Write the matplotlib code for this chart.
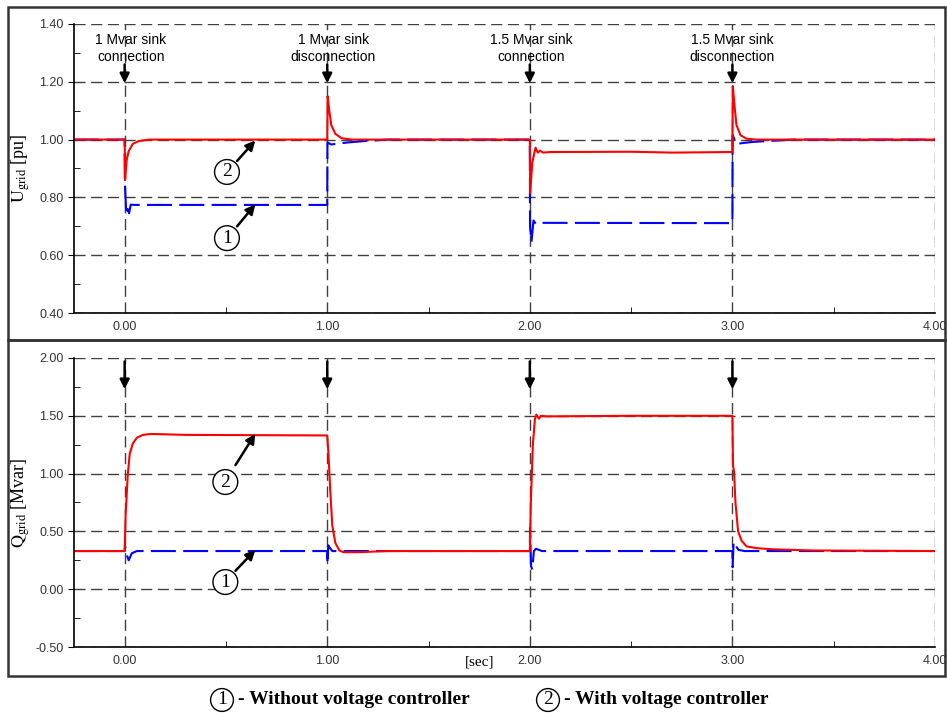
import matplotlib
matplotlib.use('Agg')
import matplotlib.pyplot as plt
from matplotlib.patches import Rectangle
from matplotlib.ticker import MultipleLocator, FormatStrFormatter

plt.rcParams['font.family'] = ['Liberation Sans', 'DejaVu Sans']
plt.rcParams['mathtext.fontset'] = 'stix'

# U_grid, without voltage controller (1)
t_u1 = [-0.25, 0.0, 0.001, 0.008, 0.015, 0.022, 0.03, 0.05, 1.0, 1.001, 1.02,
        1.05, 1.1, 1.2, 1.3, 2.0, 2.001, 2.008, 2.018, 2.03, 2.05, 3.0, 3.001,
        3.02, 3.05, 3.1, 3.2, 3.3, 4.0]
u1 = [1.0, 1.0, 0.85, 0.74, 0.76, 0.745, 0.775, 0.774, 0.774, 0.99, 0.983,
      0.986, 0.99, 0.996, 1.0, 1.0, 0.70, 0.645, 0.72, 0.708, 0.712, 0.711, 1.016,
      0.985, 0.988, 0.992, 0.996, 1.0, 1.0]

# U_grid, with voltage controller (2)
t_u2 = [-0.25, 0.0, 0.002, 0.01, 0.02, 0.04, 0.07, 0.12, 1.0, 1.002, 1.01,
        1.02, 1.04, 1.07, 1.12, 2.0, 2.002, 2.012, 2.028, 2.04, 2.05, 2.065,
        2.1, 2.5, 2.7, 3.0, 3.002, 3.01, 3.02, 3.04, 3.07, 3.12, 4.0]
u2 = [1.0, 1.0, 0.86, 0.93, 0.96, 0.985, 0.995, 1.0, 1.0, 1.15, 1.10,
      1.05, 1.02, 1.005, 1.0, 1.0, 0.815, 0.92, 0.972, 0.955, 0.962, 0.955,
      0.957, 0.958, 0.955, 0.957, 1.185, 1.12, 1.05, 1.015, 1.003, 1.0, 1.0]

# Q_grid, without voltage controller (1)
t_q1 = [-0.25, 0.0, 0.002, 0.01, 0.02, 0.035, 0.06, 1.0, 1.001, 1.005, 1.012,
        1.025, 1.05, 2.0, 2.001, 2.006, 2.012, 2.02, 2.03, 2.06, 3.0, 3.001,
        3.006, 3.015, 3.03, 3.06, 4.0]
q1 = [0.33, 0.33, 0.37, 0.30, 0.25, 0.31, 0.33, 0.33, 0.22, 0.38, 0.36,
      0.33, 0.33, 0.33, 0.53, 0.20, 0.17, 0.33, 0.35, 0.33, 0.33, 0.19,
      0.41, 0.38, 0.34, 0.33, 0.33]

# Q_grid, with voltage controller (2)
t_q2 = [-0.25, 0.0, 0.005, 0.015, 0.025, 0.04, 0.06, 0.09, 0.13, 0.3, 1.0,
        1.005, 1.015, 1.025, 1.04, 1.06, 1.08, 1.15, 1.3, 2.0, 2.005, 2.015,
        2.025, 2.032, 2.045, 2.055, 2.08, 2.5, 3.0, 3.003, 3.008, 3.015,
        3.028, 3.045, 3.07, 3.12, 3.2, 3.4, 4.0]
q2 = [0.33, 0.33, 0.65, 0.98, 1.17, 1.26, 1.31, 1.335, 1.343, 1.335, 1.33,
      1.2, 0.85, 0.55, 0.40, 0.335, 0.32, 0.32, 0.33, 0.33, 0.75, 1.25,
      1.47, 1.51, 1.475, 1.50, 1.495, 1.50, 1.50, 1.066, 1.02, 0.75,
      0.50, 0.42, 0.37, 0.355, 0.345, 0.335, 0.33]

events = [0.0, 1.0, 2.0, 3.0]
event_labels = ['1 Mvar sink\nconnection', '1 Mvar sink\ndisconnection',
                '1.5 Mvar sink\nconnection', '1.5 Mvar sink\ndisconnection']
label_shift = [0.03, 0.03, 0.005, 0.0]

fig = plt.figure(figsize=(9.47, 7.13), dpi=100)
ax1 = fig.add_axes([74/947, 1-313/713, 861/947, 289/713])
ax2 = fig.add_axes([74/947, 1-647/713, 861/947, 289/713])

grid_style = dict(color='0.25', linestyle=(0, (8, 4)), linewidth=1.0)


def style_axis(ax, ymin, ymax, ystep):
    ax.set_xlim(-0.25, 4.0)
    ax.set_ylim(ymin, ymax)
    ax.xaxis.set_major_locator(MultipleLocator(1.0))
    ax.xaxis.set_minor_locator(MultipleLocator(0.5))
    ax.yaxis.set_major_locator(MultipleLocator(ystep))
    ax.yaxis.set_minor_locator(MultipleLocator(ystep / 2))
    ax.xaxis.set_major_formatter(FormatStrFormatter('%.2f'))
    ax.yaxis.set_major_formatter(FormatStrFormatter('%.2f'))
    ax.grid(True, which='major', **grid_style)
    ax.set_axisbelow(True)
    for s in ['top', 'right']:
        ax.spines[s].set_visible(False)
    ax.spines['left'].set_linewidth(1.2)
    ax.spines['bottom'].set_linewidth(1.2)
    ax.tick_params(which='major', direction='out', length=4, labelsize=9,
                   labelcolor='#333333')
    ax.tick_params(which='minor', direction='in', length=4)
    ax.tick_params(axis='x', which='major', length=0, pad=6)
    ax.yaxis.set_label_coords(-0.049, 0.5)


def circled(ax, x, y, s, tip):
    ax.annotate('', xy=tip, xytext=(x + 0.05, y + (tip[1] - y) * 0.35),
                arrowprops=dict(arrowstyle='-|>', color='k', lw=1.8,
                                mutation_scale=14, shrinkA=0, shrinkB=0))
    ax.text(x, y, s, ha='center', va='center', fontsize=14,
            family='Liberation Serif',
            bbox=dict(boxstyle='circle,pad=0.2', fc='white', ec='k', lw=1.0))


# top panel
style_axis(ax1, 0.40, 1.40, 0.20)
ax1.plot(t_u1, u1, color='#0000ff', lw=1.5, dashes=(12, 3.5))
ax1.plot(t_u2, u2, color='#ff0000', lw=1.5)
ax1.set_ylabel(r'$\mathrm{U_{grid}}$ [pu]', family='Liberation Serif', fontsize=13)
for ev, lab, sh in zip(events, event_labels, label_shift):
    ax1.text(ev + sh, 1.315, lab, ha='center', va='center', fontsize=10,
             linespacing=1.25)
    ax1.annotate('', xy=(ev, 1.195), xytext=(ev, 1.26),
                 arrowprops=dict(arrowstyle='-|>', color='k', lw=1.8,
                                 mutation_scale=14, shrinkA=0, shrinkB=0))
circled(ax1, 0.505, 0.888, '2', (0.645, 0.997))
circled(ax1, 0.505, 0.659, '1', (0.645, 0.776))

# bottom panel
style_axis(ax2, -0.50, 2.00, 0.50)
ax2.plot(t_q1, q1, color='#0000ff', lw=1.5, dashes=(12, 3.5))
ax2.plot(t_q2, q2, color='#ff0000', lw=1.5)
ax2.set_ylabel(r'$\mathrm{Q_{grid}}$ [Mvar]', family='Liberation Serif', fontsize=13)
for ev in events:
    ax2.annotate('', xy=(ev, 1.73), xytext=(ev, 1.97),
                 arrowprops=dict(arrowstyle='-|>', color='k', lw=1.8,
                                 mutation_scale=14, shrinkA=0, shrinkB=0))
circled(ax2, 0.497, 0.927, '2', (0.645, 1.345))
circled(ax2, 0.497, 0.062, '1', (0.645, 0.34))
fig.text(480/947, 1-662/713, '[sec]', ha='center', va='center',
         family='Liberation Serif', fontsize=11)

# panel frames
fig.patches.append(Rectangle((8/947, 1-340/713), 937/947, 333/713,
                             transform=fig.transFigure, fill=False,
                             ec='#333333', lw=1.8))
fig.patches.append(Rectangle((8/947, 1-676/713), 937/947, 336/713,
                             transform=fig.transFigure, fill=False,
                             ec='#333333', lw=1.8))

# legend
for cx, num, txt in [(222, '1', '- Without voltage controller'),
                     (548, '2', '- With voltage controller')]:
    fig.text(cx/947, 1-700/713, num, ha='center', va='center', fontsize=14,
             family='Liberation Serif',
             bbox=dict(boxstyle='circle,pad=0.15', fc='white', ec='k', lw=1.0))
    fig.text((cx + 16)/947, 1-700/713, txt, ha='left', va='center',
             fontsize=14, fontweight='bold', family='Liberation Serif')

fig.savefig('out.png', dpi=100)
